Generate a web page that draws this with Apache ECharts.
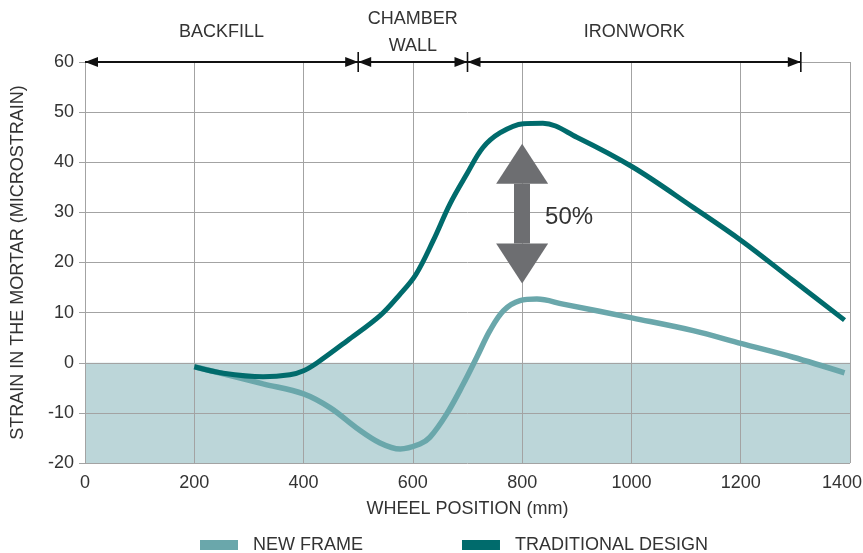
<!DOCTYPE html>
<html><head><meta charset="utf-8">
<script src="https://cdn.jsdelivr.net/npm/echarts@6/dist/echarts.min.js"></script>
<style>html,body{margin:0;padding:0;background:#fff}#c{width:863px;height:553px}</style>
</head><body><div id="c"></div>
<script>
// ---- data ----
const xMin = 0, xMax = 1400, xStep = 200;
const yMin = -20, yMax = 60, yStep = 10;
const seriesNames = ['NEW FRAME', 'TRADITIONAL DESIGN'];
const newFrame = [[200,-0.8],[253,-2.2],[326,-4.2],[400,-6.2],[449,-9],[497,-13],[540,-16],[577,-17.2],[613,-16.2],[631,-14.9],[662,-10.2],[692,-4.3],[717,1.1],[741,6.4],[766,10.4],[796,12.4],[827,12.7],[875,11.7],[1003,8.9],[1113,6.4],[1202,3.8],[1296,1.1],[1390,-2]];
const traditional = [[200,-0.8],[253,-2.1],[326,-2.8],[375,-2.4],[400,-1.6],[425,0],[480,4.4],[540,9.4],[576,13.6],[605,17.5],[637,24.3],[668,31.7],[699,37.7],[728,42.9],[760,45.9],[802,47.7],[838,47.8],[900,45],[1003,39],[1113,31],[1202,24.3],[1296,16.4],[1390,8.5]];
const sectionNames = ['BACKFILL', 'CHAMBER\nWALL', 'IRONWORK'];
const sectionFrom = [0, 500, 700];
const sectionTo = [500, 700, 1310];
const sectionLevel = 60;
const shadeBand = [[0, 0], [1400, 0]];
const arrowX = 800, arrowTop = 43.7, arrowBottom = 15.8;
const arrowLabel = '50%', arrowLabelPos = [842, 29];

// ---- styles ----
const FONT = 'Liberation Sans, Arial, sans-serif';
const TXT = '#333';
const GRID = '#a3a3a3';
const C_NEW = '#6aa7ab';
const C_TRAD = '#006b6c';
const ARROW_GREY = '#6d6e71';

const markLines = sectionNames.map((n, i) => ([
  { coord: [sectionFrom[i], sectionLevel],
    lineStyle: { color: '#111', width: 2, type: 'solid' },
    label: { show: true, formatter: n, position: 'middle', distance: n.indexOf('\n') >= 0 ? 2 : 16,
             fontSize: 18, color: TXT, fontFamily: FONT, lineHeight: 27 } },
  { coord: [sectionTo[i], sectionLevel] }
]));
const headLen = 8; // big arrow head length in y units
markLines.push([
  { coord: [arrowX, arrowTop - headLen], lineStyle: { color: ARROW_GREY, width: 16, type: 'solid' }, label: { show: false } },
  { coord: [arrowX, arrowBottom + headLen] }
]);

const markPoints = [];
sectionNames.forEach((n, i) => {
  markPoints.push({ coord: [sectionFrom[i], sectionLevel], symbol: 'triangle', symbolSize: [10, 13], symbolRotate: 90, symbolOffset: [6.5, 0], itemStyle: { color: '#111' }, label: { show: false } });
  markPoints.push({ coord: [sectionTo[i], sectionLevel], symbol: 'triangle', symbolSize: [10, 13], symbolRotate: -90, symbolOffset: [-6.5, 0], itemStyle: { color: '#111' }, label: { show: false } });
  markPoints.push({ coord: [sectionTo[i], sectionLevel], symbol: 'rect', symbolSize: [1.6, 20], itemStyle: { color: '#111' }, label: { show: false } });
});
markPoints.push({ coord: [arrowX, arrowTop], symbol: 'triangle', symbolSize: [52, 40], symbolOffset: [0, 20], itemStyle: { color: ARROW_GREY }, label: { show: false } });
markPoints.push({ coord: [arrowX, arrowBottom], symbol: 'triangle', symbolSize: [52, 40], symbolRotate: 180, symbolOffset: [0, -20], itemStyle: { color: ARROW_GREY }, label: { show: false } });
markPoints.push({ coord: arrowLabelPos, symbol: 'circle', symbolSize: 0, label: { show: true, formatter: arrowLabel, position: 'right', distance: 0, fontSize: 24, color: TXT, fontFamily: FONT } });

const chart = echarts.init(document.getElementById('c'), null, { renderer: 'canvas' });
chart.setOption({
  animation: false,
  backgroundColor: '#fff',
  textStyle: { fontFamily: FONT },
  grid: { left: 85, right: 13, top: 62, bottom: 90, outerBoundsMode: 'none', containLabel: false },
  legend: {
    data: seriesNames, icon: 'rect', itemWidth: 38, itemHeight: 10, itemGap: 99,
    left: 195, top: 531,
    textStyle: { fontSize: 18, color: TXT, fontFamily: FONT, padding: [0, 0, 0, 10] }
  },
  xAxis: {
    type: 'value', min: xMin, max: xMax, interval: xStep, z: 2,
    name: 'WHEEL POSITION (mm)', nameLocation: 'middle', nameGap: 37,
    nameTextStyle: { fontSize: 18, color: TXT, fontFamily: FONT },
    axisLine: { show: true, lineStyle: { color: GRID, width: 1 } },
    axisTick: { show: false },
    axisLabel: { fontSize: 18, color: TXT, margin: 11, fontFamily: FONT,
      formatter: v => v === xMax ? '{m|' + v + '}' : String(v),
      rich: { m: { fontSize: 18, color: TXT, fontFamily: FONT, padding: [0, 16, 0, 0] } } },
    splitLine: { show: true, lineStyle: { color: GRID, width: 1 } }
  },
  yAxis: {
    type: 'value', min: yMin, max: yMax, interval: yStep, z: 2,
    name: 'STRAIN IN THE MORTAR (MICROSTRAIN)', nameLocation: 'middle', nameGap: 58,
    nameTextStyle: { fontSize: 18, color: TXT, fontFamily: FONT },
    axisLine: { show: true, lineStyle: { color: GRID, width: 1 } },
    axisTick: { show: true, length: 6, lineStyle: { color: GRID } },
    axisLabel: { fontSize: 18, color: TXT, margin: 11, fontFamily: FONT, formatter: v => String(v) },
    splitLine: { show: true, lineStyle: { color: GRID, width: 1 } }
  },
  series: [
    { name: 'shade', type: 'line', data: shadeBand, symbol: 'none', z: 1, silent: true,
      lineStyle: { width: 0 }, areaStyle: { color: '#bcd6d9', opacity: 1, origin: 'start' } },
    { name: seriesNames[0], type: 'line', data: newFrame, smooth: 0.35, symbol: 'none', z: 3,
      itemStyle: { color: C_NEW }, lineStyle: { color: C_NEW, width: 5.5, cap: 'butt' } },
    { name: seriesNames[1], type: 'line', data: traditional, smooth: 0.35, symbol: 'none', z: 4,
      itemStyle: { color: C_TRAD }, lineStyle: { color: C_TRAD, width: 5, cap: 'butt' } },
    { name: 'annotations', type: 'line', data: [], z: 5, silent: true,
      markLine: { symbol: 'none', silent: true, animation: false, data: markLines },
      markPoint: { silent: true, animation: false, data: markPoints } }
  ]
});
</script>
</body></html>
